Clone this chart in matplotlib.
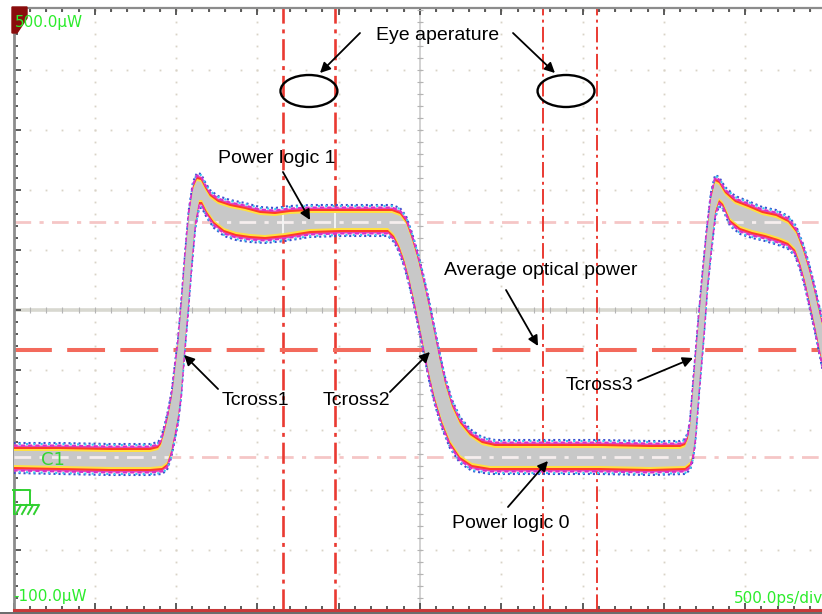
import numpy as np
import matplotlib.pyplot as plt
from matplotlib.patches import Polygon, Ellipse
from matplotlib.lines import Line2D

# scope trace: time in ps (500 ps/div), power in uW
upper_t = [0, 286, 593, 840, 889, 907, 926, 950, 975, 993, 1012, 1036, 1055, 1079,
           1104, 1128, 1153, 1178, 1208, 1258, 1332, 1424, 1516, 1608, 1700, 1824,
           2008, 2193, 2328, 2377, 2414, 2445, 2482, 2519, 2555, 2586, 2617, 2654,
           2697, 2746, 2807, 2881, 2961, 3238, 3607, 3915, 4099, 4130, 4148, 4161,
           4173, 4185, 4198, 4216, 4241, 4265, 4290, 4315, 4339, 4376, 4438, 4518,
           4604, 4690, 4764, 4813, 4856, 4893, 4924, 4955, 5001]
upper_p = [59, 59, 58, 58, 60, 64, 75, 91, 113, 138, 163, 208, 248, 293,
           320, 329, 328, 320, 312, 306, 302, 299, 295, 294, 296, 297,
           297, 297, 297, 294, 286, 272, 252, 228, 202, 177, 152, 125,
           102, 85, 73, 65, 62, 62, 62, 61, 61, 63, 70, 82,
           105, 130, 155, 190, 235, 275, 310, 327, 325, 315, 306, 301,
           295, 292, 286, 276, 258, 238, 218, 196, 165]
lower_t = [0, 286, 593, 840, 913, 944, 969, 987, 1012, 1030, 1049, 1073, 1092, 1116,
           1141, 1159, 1190, 1233, 1295, 1368, 1455, 1547, 1670, 1824, 2008, 2193,
           2303, 2340, 2371, 2402, 2432, 2463, 2494, 2525, 2555, 2592, 2635, 2684,
           2746, 2820, 2930, 3238, 3607, 3915, 4130, 4161, 4179, 4192, 4204, 4216,
           4229, 4247, 4265, 4290, 4315, 4339, 4364, 4407, 4469, 4542, 4622, 4702,
           4764, 4807, 4838, 4869, 4899, 4930, 4961, 5001]
lower_p = [45, 44, 43, 43, 44, 48, 60, 74, 95, 120, 160, 205, 245, 288,
           310, 310, 300, 290, 282, 278, 276, 275, 277, 281, 282, 282,
           282, 276, 266, 252, 234, 212, 188, 163, 138, 113, 90, 70,
           55, 47, 44, 44, 44, 43, 44, 48, 58, 75, 100, 125,
           150, 185, 225, 265, 300, 312, 308, 292, 284, 280, 277, 273,
           269, 262, 248, 230, 208, 185, 160, 128]

eye_marks = [1657, 1977, 3256, 3589]     # eye aperture cursors, ps
level_one = 288                          # power logic 1, uW
level_zero = 53                          # power logic 0, uW
avg_power = 160                          # average optical power, uW

# text, text position (left, baseline), arrows as (tail, head)
notes = [
    ("Eye aperature", (2229, 470), [((2131, 477), (1885, 437)), ((3072, 477), (3330, 437))]),
    ("Power logic 1", (1258, 347), [((1657, 338), (1824, 290))]),
    ("Average optical power", (2648, 235), [((3029, 220), (3226, 164))]),
    ("Tcross1", (1282, 105), [((1258, 121), (1049, 155))]),
    ("Tcross2", (1903, 105), [((2315, 118), (2561, 158))]),
    ("Tcross3", (3398, 120), [((3841, 129), (4179, 152))]),
    ("Power logic 0", (2697, -18), [((3041, 3), (3287, 49))]),
]
ut, up = np.array(upper_t), np.array(upper_p)
lt, lp = np.array(lower_t), np.array(lower_p)

W, H = 822, 614
fig = plt.figure(figsize=(W / 100, H / 100), dpi=100)
ax = fig.add_axes([13.5 / W, 4 / H, 813 / W, 602 / H])
ax.set_xlim(0, 5000)
ax.set_ylim(-100, 502)


def fpx(x, y):
    # screen pixel -> figure fraction, only for the scope decorations
    return x / W, 1 - y / H


# dotted graticule
for gx in np.arange(0, 5001, 500):
    yy = np.arange(-100, 501, 12)
    ax.plot([gx] * len(yy), yy, ls='none', marker='s', ms=1.3, mew=0,
            color='#d9d3c6', zorder=1)
for gy in np.arange(-100, 501, 60):
    xx = np.arange(0, 5001, 100)
    ax.plot(xx, [gy] * len(xx), ls='none', marker='s', ms=1.3, mew=0,
            color='#d9d3c6', zorder=1)

# centre cross with small ticks
ax.axhline(200, color='#d8d8d0', lw=2.6, zorder=1.5)
ax.axvline(2500, color='#cfcfcf', lw=1.3, zorder=1.5)
xx = np.arange(0, 5001, 100)
ax.plot(xx, [200] * len(xx), ls='none', marker='|', ms=5, mew=0.8, color='#b4b4b4', zorder=1.6)
yy = np.arange(-100, 501, 12)
ax.plot([2500] * len(yy), yy, ls='none', marker='_', ms=5, mew=0.8, color='#b4b4b4', zorder=1.6)

# reference levels under the trace
for lev in (level_one, level_zero):
    ax.axhline(lev, color='#f5c6c6', lw=2.0, dashes=(6, 3, 1.5, 3), zorder=2)
for i, t in enumerate(eye_marks):
    lw = 1.9 if i < 2 else 1.4
    ax.axvline(t, color='#ea3a32', lw=lw, dashes=(8, 2.2, 1.5, 2.2), zorder=2)
ax.axhline(avg_power, color='#f36a5c', lw=2.9, dashes=(9.4, 3.8), zorder=2)

# the trace: speckled coloured fringes around a grey core
poly_t = np.r_[ut, lt[::-1]]
for off, col in [(5.5, '#e848b8'), (4, '#ff3a2a'), (2, '#ffe040')]:
    ax.fill(poly_t, np.r_[up + off, lp[::-1] - off], color=col, lw=0, zorder=3)
for off, col, ls in [(8, '#3a4fd0', (0, (1, 1.4))), (7, '#38c8f0', (1, (1, 2.5))),
                     (5.5, '#d830c8', (0, (2, 1.5)))]:
    ax.plot(ut, up + off, color=col, lw=1.5, ls=ls, zorder=3.1)
    ax.plot(lt, lp - off, color=col, lw=1.5, ls=ls, zorder=3.1)
core = Polygon(np.c_[poly_t, np.r_[up, lp[::-1]]], closed=True,
               facecolor='#c8c8c8', edgecolor='none', zorder=3.5)
ax.add_patch(core)

# cursor lines show through the trace as light streaks
for lev in (level_one, level_zero):
    ln = ax.axhline(lev, color='#f6eeee', lw=2.0, dashes=(6, 3, 1.5, 3), zorder=3.6)
    ln.set_clip_path(core)
for t in eye_marks[:2]:
    ln = ax.axvline(t, color='#f4f4f4', lw=1.4, zorder=3.6)
    ln.set_clip_path(core)

# eye aperture ellipses
for cx in (1817, 3398):
    ax.add_patch(Ellipse((cx, 419), 350, 32, fill=False, ec='black', lw=1.7, zorder=5))

for txt, pos, arrows in notes:
    ax.text(pos[0], pos[1], txt, ha='left', va='baseline', fontsize=14,
            family=['Liberation Sans', 'DejaVu Sans'], color='black', zorder=6)
    for tail, head in arrows:
        ax.annotate('', xy=head, xytext=tail,
                    arrowprops=dict(arrowstyle='-|>', color='black', lw=1.3,
                                    mutation_scale=15, shrinkA=0, shrinkB=0), zorder=6)

# frame and ticks
ax.set_xticks(np.arange(0, 5001, 500))
ax.set_xticks(np.arange(0, 5001, 100), minor=True)
ax.set_yticks(np.arange(-100, 501, 60))
ax.set_yticks(np.arange(-100, 501, 12), minor=True)
ax.tick_params(which='both', direction='in', top=True, right=False,
               labelbottom=False, labelleft=False, color='#404040', width=1.2)
ax.tick_params(which='major', length=5)
ax.tick_params(which='minor', length=3)
ax.spines['right'].set_visible(False)
ax.spines['left'].set_color('#8c8c8c')
ax.spines['left'].set_linewidth(2.0)
ax.spines['top'].set_color('#8c8c8c')
ax.spines['top'].set_linewidth(1.6)
ax.spines['bottom'].set_color('#c83a3a')
ax.spines['bottom'].set_linewidth(2.2)
fig.add_artist(Line2D([0, 1], [1 - 612.5 / H] * 2, color='#505050', lw=1.2))

# channel marker and readouts
fig.add_artist(Polygon([fpx(12, 7), fpx(27, 7), fpx(27, 18), fpx(17, 33), fpx(12, 33)],
                       closed=True, transform=fig.transFigure, color='#8a0c0c', zorder=4))
green = '#2cec2c'
fig.text(*fpx(15, 23), '500.0µW', color=green, fontsize=11, va='center', ha='left', zorder=5)
fig.text(*fpx(13, 597), '-100.0µW', color=green, fontsize=11, va='center', ha='left')
fig.text(*fpx(823, 598), '500.0ps/div', color=green, fontsize=11, va='center', ha='right')
fig.text(*fpx(41, 460), 'C1', color='#34d434', fontsize=13, va='center', ha='left', zorder=5)

# ground marker
g = '#30d030'
for xs, ys in [([13, 30, 30], [490, 490, 505]), ([14, 14], [490, 514]), ([15, 38], [505, 505])]:
    fig.add_artist(Line2D(np.array(xs) / W, 1 - np.array(ys) / H, color=g, lw=1.4))
for x0 in (16, 22, 28, 34):
    fig.add_artist(Line2D([x0 / W, (x0 + 5) / W], [1 - 514 / H, 1 - 505 / H], color=g, lw=1.4))

fig.savefig('out.png', dpi=100, facecolor='white')
